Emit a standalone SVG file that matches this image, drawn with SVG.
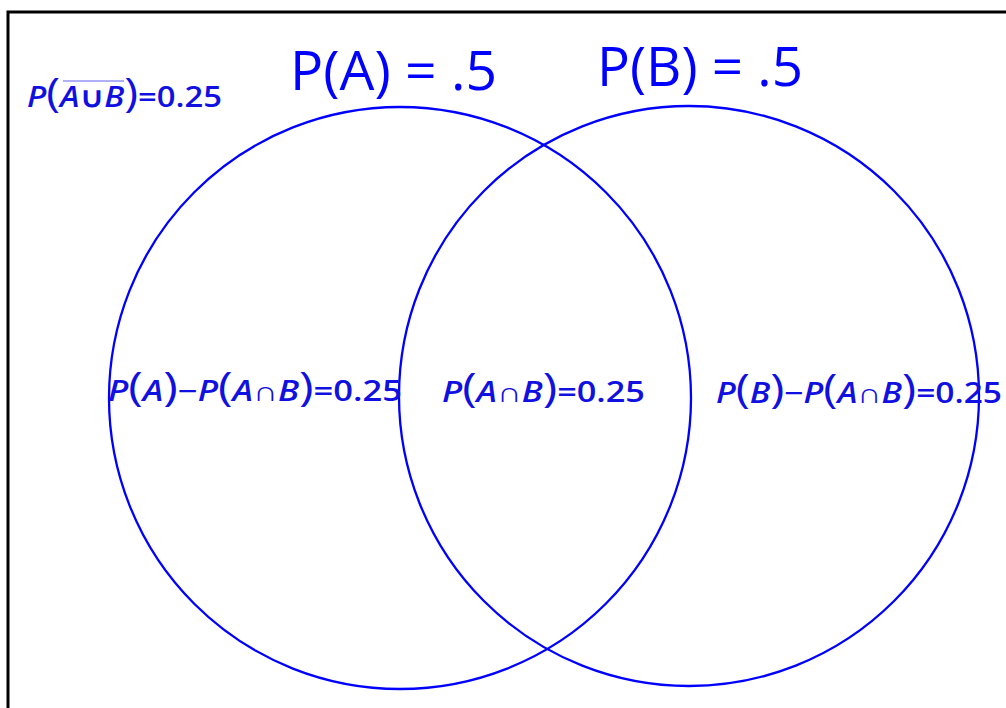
<svg xmlns="http://www.w3.org/2000/svg" width="1006" height="708" viewBox="0 0 1006 708">
<style>
.title{font-family:"Open Sans","Liberation Sans",sans-serif;font-size:55px;fill:#0000ff}
.f{font-family:"Open Sans","Liberation Sans",sans-serif;font-size:28px;font-weight:600;fill:#1010e0}
.i{font-style:italic}
.p{font-weight:400;font-size:40px}
.c{fill:none;stroke:#0000ff;stroke-width:2.3}
</style>
<rect x="0" y="0" width="1006" height="708" fill="#fff"/>
<rect x="8" y="12" width="1020" height="720" fill="none" stroke="#000" stroke-width="3"/>
<g id="circleA"><circle class="c" cx="400" cy="398" r="291"/></g>
<g id="circleB"><circle class="c" cx="689" cy="396" r="290"/></g>
<g id="connectors"></g>
<g id="titleA"><text class="title" x="290" y="90" textLength="207" lengthAdjust="spacingAndGlyphs">P(A) = .5</text></g>
<g id="titleB"><text class="title" x="597" y="86" textLength="206" lengthAdjust="spacingAndGlyphs">P(B) = .5</text></g>
<g id="complement">
<text class="f" x="27" y="107" textLength="195" lengthAdjust="spacingAndGlyphs"><tspan class="i">P</tspan><tspan class="p">(</tspan><tspan class="i">A</tspan>∪<tspan class="i">B</tspan><tspan class="p">)</tspan>=0.25</text>
<line x1="63" y1="81" x2="124" y2="81" stroke="#6060f0" stroke-width="1.2"/>
</g>
<g id="onlyA"><text class="f" x="108" y="401" textLength="294" lengthAdjust="spacingAndGlyphs"><tspan class="i">P</tspan><tspan class="p">(</tspan><tspan class="i">A</tspan><tspan class="p">)</tspan>−<tspan class="i">P</tspan><tspan class="p">(</tspan><tspan class="i">A</tspan>∩<tspan class="i">B</tspan><tspan class="p">)</tspan>=0.25</text></g>
<g id="both"><text class="f" x="442" y="402" textLength="203" lengthAdjust="spacingAndGlyphs"><tspan class="i">P</tspan><tspan class="p">(</tspan><tspan class="i">A</tspan>∩<tspan class="i">B</tspan><tspan class="p">)</tspan>=0.25</text></g>
<g id="onlyB"><text class="f" x="716" y="403" textLength="286" lengthAdjust="spacingAndGlyphs"><tspan class="i">P</tspan><tspan class="p">(</tspan><tspan class="i">B</tspan><tspan class="p">)</tspan>−<tspan class="i">P</tspan><tspan class="p">(</tspan><tspan class="i">A</tspan>∩<tspan class="i">B</tspan><tspan class="p">)</tspan>=0.25</text></g>
</svg>
